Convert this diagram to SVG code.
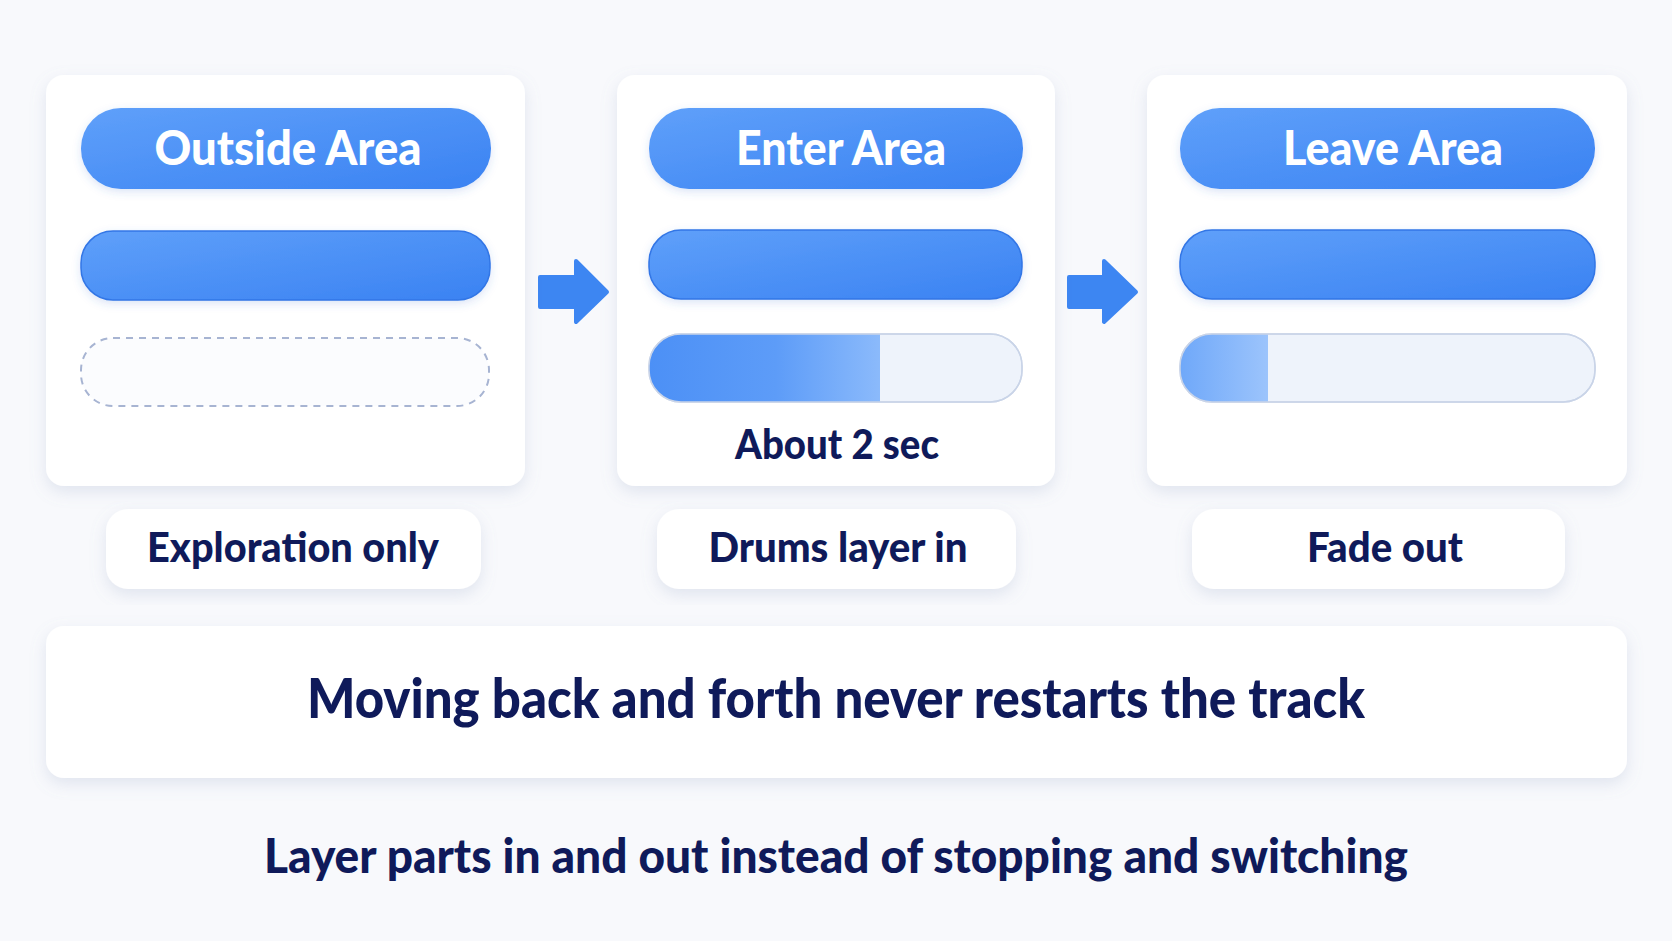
<svg xmlns="http://www.w3.org/2000/svg" width="1672" height="941" viewBox="0 0 1672 941">
<defs>
<linearGradient id="blue" x1="0" y1="0" x2="1" y2="1">
<stop offset="0" stop-color="#5fa0fa"/>
<stop offset="1" stop-color="#3a82f2"/>
</linearGradient>
<linearGradient id="fill2" x1="0" y1="0" x2="1" y2="0">
<stop offset="0" stop-color="#4c90f6"/>
<stop offset="0.55" stop-color="#5d9cf8"/>
<stop offset="1" stop-color="#8bbafb"/>
</linearGradient>
<linearGradient id="fill3" x1="0" y1="0" x2="1" y2="0">
<stop offset="0" stop-color="#6fa8f9"/>
<stop offset="1" stop-color="#9cc4fc"/>
</linearGradient>
<filter id="shadow" x="-10%" y="-10%" width="120%" height="130%">
<feDropShadow dx="0" dy="6" stdDeviation="8" flood-color="#8a9bbd" flood-opacity="0.22"/>
</filter>
<filter id="soft" x="-10%" y="-20%" width="120%" height="150%">
<feDropShadow dx="0" dy="3" stdDeviation="4" flood-color="#3a6fd0" flood-opacity="0.18"/>
</filter>
<clipPath id="c2"><rect x="649" y="334" width="373" height="68" rx="32"/></clipPath>
<clipPath id="c3"><rect x="1180" y="334" width="415" height="68" rx="32"/></clipPath>
</defs>
<style>
.panel{fill:#ffffff;filter:url(#shadow);}
.head{fill:url(#blue);filter:url(#soft);}
.bar{fill:url(#blue);stroke:#3276e6;stroke-width:1.5;filter:url(#soft);}
.track{fill:#eef3fb;stroke:#cfd8e8;stroke-width:1.5;}
.dash{fill:#fbfcfe;stroke:#a7b4d2;stroke-width:2;stroke-dasharray:7 6;}
.htxt{font-family:"Source Sans Pro","Lato","Noto Sans",sans-serif;font-weight:900;fill:#ffffff;font-size:48px;text-anchor:middle;}
.ntxt{font-family:"Source Sans Pro","Lato","Noto Sans",sans-serif;font-weight:900;fill:#0f1a5a;text-anchor:middle;}
.arrow{fill:#3d86f2;stroke:#3d86f2;stroke-width:4;stroke-linejoin:round;}
</style>
<rect width="1672" height="941" fill="#f8f9fc"/>

<g id="connectors">
<polygon class="arrow" points="540,277 576,277 576,261 607,292 576,322 576,307 540,307"/>
<polygon class="arrow" points="1069,277 1104,277 1104,261 1136,292 1104,322 1104,307 1069,307"/>
</g>

<g id="panel-outside">
<rect class="panel" x="46" y="75" width="479" height="411" rx="18"/>
<rect class="head" x="81" y="108" width="410" height="81" rx="40"/>
<text class="htxt" x="288" y="165" textLength="267" lengthAdjust="spacingAndGlyphs">Outside Area</text>
<rect class="bar" x="81" y="231" width="409" height="69" rx="32"/>
<rect class="dash" x="81" y="338" width="408" height="68" rx="32"/>
</g>

<g id="panel-enter">
<rect class="panel" x="617" y="75" width="438" height="411" rx="18"/>
<rect class="head" x="649" y="108" width="374" height="81" rx="40"/>
<text class="htxt" x="841" y="165" textLength="210" lengthAdjust="spacingAndGlyphs">Enter Area</text>
<rect class="bar" x="649" y="230" width="373" height="69" rx="32"/>
<rect class="track" x="649" y="334" width="373" height="68" rx="32"/>
<rect x="649" y="334" width="231" height="68" fill="url(#fill2)" clip-path="url(#c2)"/>
<rect x="649" y="334" width="373" height="68" rx="32" fill="none" stroke="#c9d4e8" stroke-width="1.5"/>
<text class="ntxt" x="837" y="459" font-size="41" textLength="204" lengthAdjust="spacingAndGlyphs">About 2 sec</text>
</g>

<g id="panel-leave">
<rect class="panel" x="1147" y="75" width="480" height="411" rx="18"/>
<rect class="head" x="1180" y="108" width="415" height="81" rx="40"/>
<text class="htxt" x="1393" y="165" textLength="220" lengthAdjust="spacingAndGlyphs">Leave Area</text>
<rect class="bar" x="1180" y="230" width="415" height="69" rx="32"/>
<rect class="track" x="1180" y="334" width="415" height="68" rx="32"/>
<rect x="1180" y="334" width="88" height="68" fill="url(#fill3)" clip-path="url(#c3)"/>
<rect x="1180" y="334" width="415" height="68" rx="32" fill="none" stroke="#c9d4e8" stroke-width="1.5"/>
</g>

<g id="label-exploration">
<rect class="panel" x="106" y="509" width="375" height="80" rx="22"/>
<text class="ntxt" x="293" y="562" font-size="41" textLength="292" lengthAdjust="spacingAndGlyphs">Exploration only</text>
</g>
<g id="label-drums">
<rect class="panel" x="657" y="509" width="359" height="80" rx="22"/>
<text class="ntxt" x="838" y="562" font-size="41" textLength="259" lengthAdjust="spacingAndGlyphs">Drums layer in</text>
</g>
<g id="label-fade">
<rect class="panel" x="1192" y="509" width="373" height="80" rx="22"/>
<text class="ntxt" x="1385" y="562" font-size="41" textLength="156" lengthAdjust="spacingAndGlyphs">Fade out</text>
</g>

<g id="summary">
<rect class="panel" x="46" y="626" width="1581" height="152" rx="18"/>
<text class="ntxt" x="836" y="718" font-size="55" textLength="1058" lengthAdjust="spacingAndGlyphs">Moving back and forth never restarts the track</text>
</g>

<g id="footer">
<text class="ntxt" x="836" y="873" font-size="48" textLength="1144" lengthAdjust="spacingAndGlyphs">Layer parts in and out instead of stopping and switching</text>
</g>
</svg>
